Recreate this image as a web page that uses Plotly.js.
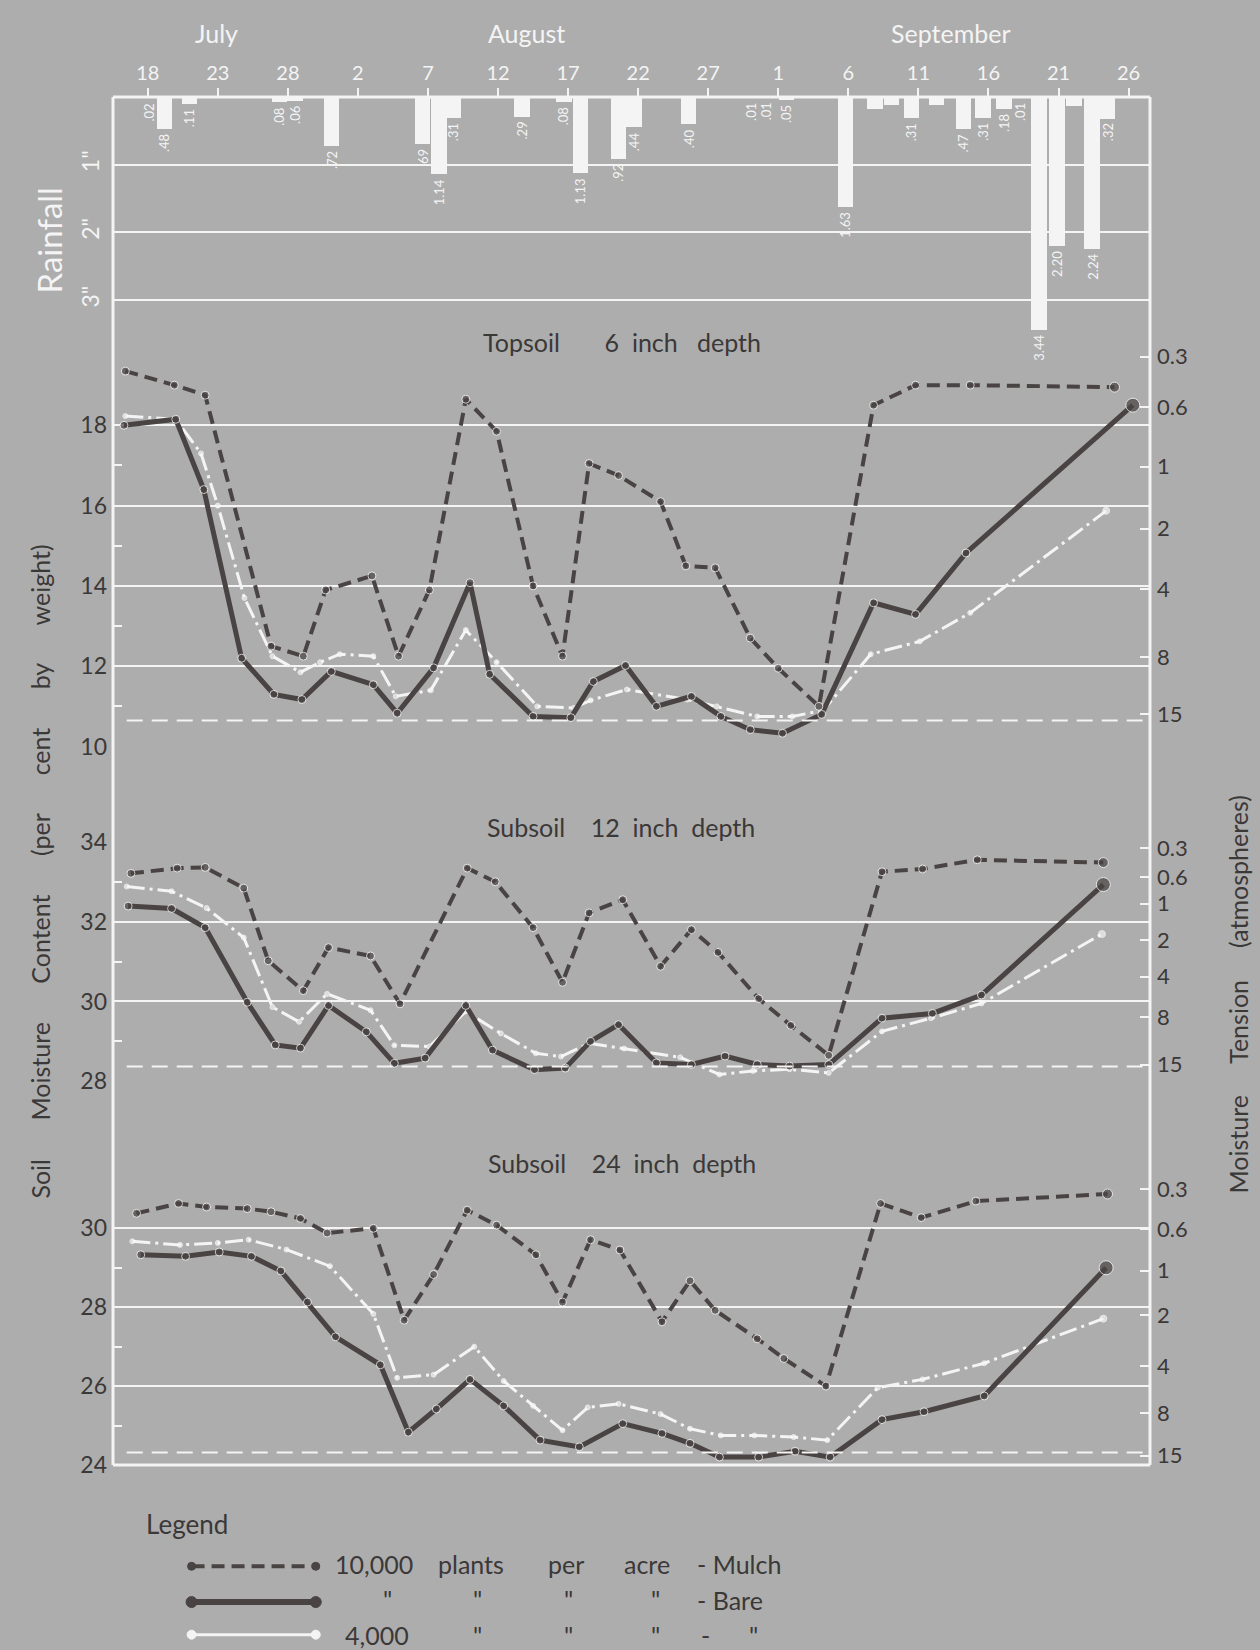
<!DOCTYPE html>
<html><head><meta charset="utf-8">
<script src="https://cdn.plot.ly/plotly-3.0.1.min.js"></script>
<style>html,body{margin:0;padding:0;background:#adadad;}#chart{width:1260px;height:1650px;}</style>
</head><body><div id="chart"></div>
<script>
// ---------- DATA (x = days after July 18) ----------
const tickDays  = [0,5,10,15,20,25,30,35,40,45,50,55,60,65,70];
const tickDates = ['18','23','28','2','7','12','17','22','27','1','6','11','16','21','26'];
const monthNames = ['July','August','September'];
const monthDays  = [4.9, 27.0, 57.3];

const rainDay = [0.1,1.2,3.0,9.4,10.5,13.1,19.6,20.8,21.8,26.7,29.7,30.9,33.6,34.7,38.6,43.0,44.1,45.6,49.8,51.9,53.1,54.5,56.3,58.2,59.6,61.1,62.2,63.6,64.9,66.1,67.4,68.5];
const rainAmt = [0.02,0.48,0.11,0.08,0.06,0.72,0.69,1.14,0.31,0.29,0.08,1.13,0.92,0.44,0.40,0.01,0.01,0.05,1.63,0.17,0.12,0.31,0.12,0.47,0.31,0.18,0.01,3.44,2.20,0.14,2.24,0.32];
const rainLbl = ['.02','.48','.11','.08','.06','.72','.69','1.14','.31','.29','.08','1.13','.92','.44','.40','.01','.01','.05','1.63','','','.31','','.47','.31','.18','.01','3.44','2.20','','2.24','.32'];
const rainTicks = [1,2,3];
const rainTickText = ['1"','2"','3"'];

// Topsoil 6 inch
const top6MulchDay = [-1.6,1.9,4.1,8.8,11.1,12.7,16.0,17.9,20.1,22.7,24.9,27.5,29.6,31.5,33.6,36.6,38.4,40.5,43.0,45.0,47.9,51.8,54.8,58.7,69.0];
const top6MulchVal = [19.35,19.0,18.75,12.5,12.25,13.9,14.25,12.25,13.9,18.65,17.85,14.0,12.25,17.05,16.75,16.1,14.5,14.45,12.7,11.95,11.0,18.5,19.0,19.0,18.95];
const top6BareDay  = [-1.7,2.0,4.0,6.7,9.0,11.0,13.1,16.1,17.8,20.4,23.0,24.4,27.5,30.2,31.8,34.1,36.3,38.8,40.9,43.0,45.3,48.1,51.8,54.8,58.4,70.3];
const top6BareVal  = [18.0,18.15,16.4,12.2,11.3,11.17,11.87,11.54,10.83,11.96,14.08,11.8,10.75,10.72,11.62,12.02,11.0,11.25,10.75,10.42,10.33,10.8,13.58,13.29,14.82,18.5];
const top6LowDay   = [-1.6,2.0,3.8,5.0,6.9,8.9,10.9,12.3,13.7,16.1,17.7,20.2,22.7,24.9,27.8,30.4,31.6,34.2,38.5,40.6,43.5,46.0,48.2,51.6,55.1,58.7,68.4];
const top6LowVal   = [18.23,18.15,17.3,16.0,13.7,12.25,11.85,12.1,12.3,12.25,11.25,11.4,12.9,12.1,11.0,10.96,11.15,11.42,11.17,11.0,10.75,10.75,10.9,12.3,12.62,13.33,15.87];

// Subsoil 12 inch
const sub12MulchDay = [-1.2,2.1,4.1,6.85,8.6,11.1,12.9,15.9,18.0,22.8,24.8,27.5,29.6,31.5,33.9,36.6,38.8,40.7,43.6,45.9,48.6,52.4,55.3,59.2,68.2];
const sub12MulchVal = [33.21,33.34,33.36,32.84,31.02,30.27,31.35,31.14,29.94,33.34,33.0,31.85,30.48,32.22,32.55,30.88,31.8,31.23,30.07,29.4,28.65,33.25,33.32,33.55,33.48];
const sub12BareDay  = [-1.4,1.7,4.1,7.1,9.1,10.9,12.9,15.6,17.6,19.8,22.7,24.6,27.6,29.8,31.6,33.6,36.3,38.8,41.2,43.5,45.8,48.6,52.4,56.0,59.5,68.2];
const sub12BareVal  = [32.39,32.33,31.85,29.98,28.91,28.83,29.9,29.24,28.45,28.58,29.9,28.78,28.29,28.33,29.0,29.42,28.46,28.42,28.63,28.42,28.38,28.42,29.58,29.7,30.16,32.93];
const sub12LowDay   = [-1.5,1.7,4.2,6.85,8.9,10.8,12.8,15.9,17.6,20.1,22.7,25.2,27.7,29.5,31.5,34.0,38.0,40.8,43.2,45.8,48.6,52.4,55.9,59.5,68.1];
const sub12LowVal   = [32.88,32.76,32.34,31.6,29.86,29.49,30.19,29.78,28.9,28.87,29.75,29.2,28.7,28.62,28.95,28.82,28.6,28.17,28.26,28.3,28.21,29.25,29.58,29.95,31.69];

// Subsoil 24 inch
const sub24MulchDay = [-0.8,2.2,4.2,7.1,8.8,10.9,12.8,16.1,18.3,20.4,22.8,24.9,27.7,29.6,31.6,33.7,36.7,38.7,40.5,43.5,45.4,48.4,52.3,55.2,59.1,68.5];
const sub24MulchVal = [30.38,30.63,30.54,30.5,30.42,30.25,29.88,30.0,27.67,28.83,30.46,30.08,29.33,28.13,29.71,29.45,27.63,28.67,27.92,27.2,26.7,26.0,30.63,30.27,30.69,30.87];
const sub24BareDay  = [-0.5,2.7,5.1,7.4,9.5,11.4,13.4,16.6,18.6,20.6,23.0,25.4,28.0,30.8,33.9,36.7,38.7,40.8,43.6,46.2,48.7,52.4,55.4,59.7,68.4];
const sub24BareVal  = [29.33,29.29,29.4,29.29,28.92,28.13,27.25,26.54,24.83,25.42,26.17,25.5,24.63,24.46,25.05,24.8,24.55,24.2,24.2,24.35,24.2,25.15,25.35,25.75,29.0];
const sub24LowDay   = [-1.1,2.3,5.0,7.2,9.9,13.0,16.1,17.8,20.4,23.3,25.4,27.5,29.6,31.4,33.6,36.6,38.7,40.9,43.3,46.1,48.5,52.1,55.3,59.7,68.2];
const sub24LowVal   = [29.67,29.58,29.63,29.71,29.46,29.04,27.83,26.21,26.29,27.0,26.13,25.5,24.88,25.46,25.55,25.29,24.92,24.75,24.75,24.71,24.63,25.96,26.17,26.58,27.71];

// Moisture tension scale (atmospheres) and its position on each moisture scale
const tensionText = ['0.3','0.6','1','2','4','8','15'];
const tensionAt6  = [19.71,18.46,16.97,15.43,13.92,12.22,10.81];
const tensionAt12 = [33.84,33.11,32.45,31.54,30.62,29.6,28.42];
const tensionAt24 = [30.99,29.97,28.93,27.79,26.51,25.31,24.24];
// 15 atmosphere (wilting) lines
const wiltX = [-1.5, 71.0];
const wilt6 = 10.65, wilt12 = 28.37, wilt24 = 24.32;

const ticks6 = [10,12,14,16,18,20],  ticks6Text = ['10','12','14','16','18',''];
const ticks12 = [28,30,32,34],       ticks12Text = ['28','30','32','34'];
const ticks24 = [24,26,28,30],       ticks24Text = ['24','26','28','30'];

// ---------- LAYOUT HELPERS ----------
const S = 1.0526, L = 113, R = 1150, T = 97, B = 1465, W = R - L, H = B - T;
const PX = p => (p * S - L) / W;
const PY = p => (B - p * S) / H;
const FONT = 'Lato, "Open Sans", "DejaVu Sans", sans-serif';
const DARK = '#3b3838', LINE = '#4a4343', WHITE = '#f4f4f4', BG = '#adadad';
const nb = n => '\u00a0'.repeat(n);

// ---------- TRACES ----------
const traces = [];
traces.push({type:'bar', x: rainDay, y: rainAmt, width: 1.1, xaxis:'x', yaxis:'y',
  marker:{color: WHITE, line:{width:0}}, hoverinfo:'x+y', showlegend:false});

function panel(yax, tax, mD, mV, bD, bV, lD, lV, wilt) {
  const big = (arr, s, e) => arr.map((_, i) => i === arr.length - 1 ? e : s);
  traces.push({type:'scatter', mode:'lines', x: wiltX, y: [wilt, wilt], xaxis:'x', yaxis: tax,
    line:{color: WHITE, width: 2, dash:'16px,9px'}, hoverinfo:'skip', showlegend:false});
  traces.push({type:'scatter', mode:'lines+markers', x: lD, y: lV, xaxis:'x', yaxis: yax,
    line:{color: WHITE, width: 3, dash:'18px,5px,3px,5px'}, marker:{color: WHITE, size: big(lD,5,7)}, showlegend:false});
  traces.push({type:'scatter', mode:'lines+markers', x: bD, y: bV, xaxis:'x', yaxis: yax,
    line:{color: LINE, width: 5}, marker:{color: LINE, size: big(bD,8,14)}, showlegend:false});
  traces.push({type:'scatter', mode:'lines+markers', x: mD, y: mV, xaxis:'x', yaxis: yax,
    line:{color: LINE, width: 4, dash:'13px,7px'}, marker:{color: LINE, size: big(mD,8,10)}, showlegend:false});
}
panel('y2','y5', top6MulchDay, top6MulchVal, top6BareDay, top6BareVal, top6LowDay, top6LowVal, wilt6);
panel('y3','y6', sub12MulchDay, sub12MulchVal, sub12BareDay, sub12BareVal, sub12LowDay, sub12LowVal, wilt12);
panel('y4','y7', sub24MulchDay, sub24MulchVal, sub24BareDay, sub24BareVal, sub24LowDay, sub24LowVal, wilt24);

// ---------- AXES ----------
const xr = [-2.48, 71.53];
function leftAxis(dom, range, tv, tt, minorVals) {
  return {domain: dom, range: range, anchor:'x', tickmode:'array', tickvals: tv, ticktext: tt,
    ticks:'', showline:false, zeroline:false, showgrid:true, gridcolor: WHITE, gridwidth: 2,
    tickfont:{family: FONT, size: 23, color: DARK}, ticklabelstandoff: 5, fixedrange:true,
    minor:{tickmode:'array', tickvals: minorVals, ticks:'inside', ticklen: 9, tickwidth: 2, tickcolor: WHITE, showgrid:false}};
}
function rightAxis(over, range, tv) {
  return {overlaying: over, side:'right', anchor:'x', range: range, tickmode:'array', tickvals: tv, ticktext: tensionText,
    ticks:'inside', ticklen: 10, tickwidth: 2, tickcolor: WHITE, showgrid:false, zeroline:false, showline:false,
    tickfont:{family: FONT, size: 22, color: DARK}, ticklabelstandoff: 6, fixedrange:true};
}
const d6 = [PY(710), PY(327)], d12 = [PY(1028), PY(799)], d24 = [0, PY(1045)];
const r6 = [9.98, 20.02], r12 = [27.98, 34.02], r24 = [24, 24 + (1392 - 1045) / 37.5];

const layout = {
  width: 1260, height: 1650, paper_bgcolor: BG, plot_bgcolor: BG,
  margin:{l: L, r: 1260 - R, t: T, b: 1650 - B}, showlegend:false, bargap: 0,
  font:{family: FONT, color: DARK},
  xaxis:{domain:[0,1], range: xr, anchor:'y', side:'top', tickmode:'array', tickvals: tickDays, ticktext: tickDates,
    ticks:'outside', ticklen: 8, tickwidth: 2, tickcolor: WHITE, showgrid:false, zeroline:false, showline:false,
    tickfont:{family: FONT, size: 20, color: WHITE}, fixedrange:true},
  yaxis:{domain:[PY(327), 1], range:[(327 - 92) / 64.33, 0], anchor:'x', tickmode:'array', tickvals: rainTicks, ticktext: rainTickText,
    tickangle: -90, ticks:'', showgrid:true, gridcolor: WHITE, gridwidth: 2, zeroline:false, showline:false,
    tickfont:{family: FONT, size: 23, color: WHITE}, ticklabelstandoff: 8, fixedrange:true},
  yaxis2: leftAxis(d6, r6, ticks6, ticks6Text, [11,13,15,17]),
  yaxis3: leftAxis(d12, r12, ticks12, ticks12Text, [29,31,33]),
  yaxis4: leftAxis(d24, r24, ticks24, ticks24Text, [25,27,29]),
  yaxis5: rightAxis('y2', r6, tensionAt6),
  yaxis6: rightAxis('y3', r12, tensionAt12),
  yaxis7: rightAxis('y4', r24, tensionAt24),
  shapes: [], annotations: []
};

// frame
const fr = {type:'line', xref:'paper', yref:'paper', line:{color: WHITE, width: 3}};
layout.shapes.push(Object.assign({}, fr, {x0:0, x1:0, y0:0, y1:1}));
layout.shapes.push(Object.assign({}, fr, {x0:1, x1:1, y0:0, y1:1}));
layout.shapes.push(Object.assign({}, fr, {x0:0, x1:1, y0:1, y1:1}));
layout.shapes.push(Object.assign({}, fr, {x0:0, x1:1, y0:0, y1:0}));

// rainfall labels
rainDay.forEach((d, i) => {
  if (!rainLbl[i]) return;
  layout.annotations.push({x: d, y: rainAmt[i], xref:'x', yref:'y', text: rainLbl[i], showarrow:false,
    textangle: -90, yanchor:'top', xanchor:'center', yshift: -3, font:{family: FONT, size: 13, color: WHITE}});
});

// month labels
monthNames.forEach((m, i) => layout.annotations.push({x: monthDays[i], y: PY(31), xref:'x', yref:'paper', text: m,
  showarrow:false, xanchor:'center', yanchor:'middle', font:{family: FONT, size: 25, color: WHITE}}));

const ann = (x, y, text, opts) => layout.annotations.push(Object.assign({x: PX(x), y: PY(y), xref:'paper', yref:'paper',
  text: text, showarrow:false, xanchor:'center', yanchor:'middle', font:{family: FONT, size: 25, color: DARK}}, opts || {}));

ann(47, 228, 'Rainfall', {textangle: -90, font:{family: FONT, size: 33, color: WHITE}});
ann(591, 325, 'Topsoil' + nb(7) + '6' + nb(2) + 'inch' + nb(3) + 'depth');
ann(590, 786, 'Subsoil' + nb(4) + '12' + nb(2) + 'inch' + nb(2) + 'depth');
ann(591, 1105, 'Subsoil' + nb(4) + '24' + nb(2) + 'inch' + nb(2) + 'depth');
ann(38, 828, ['Soil','Moisture','Content','(per','cent','by','weight)'].join(nb(6)), {textangle: -90});
ann(1176, 945, ['Moisture','Tension','(atmospheres)'].join(nb(5)), {textangle: -90});

// legend
ann(137, 1448, 'Legend', {xanchor:'left', font:{family: FONT, size: 26, color: DARK}});
const lg = (x, y, t) => ann(x, y, t, {xanchor:'left', font:{family: FONT, size: 25, color: DARK}});
lg(316, 1486, '10,000'); lg(414, 1486, 'plants'); lg(519, 1486, 'per'); lg(591, 1486, 'acre'); lg(660, 1486, '-' + nb(1) + 'Mulch');
lg(362, 1519, '"'); lg(447, 1519, '"'); lg(534, 1519, '"'); lg(617, 1519, '"'); lg(660, 1520, '-' + nb(1) + 'Bare');
lg(326, 1553, '4,000'); lg(447, 1553, '"'); lg(534, 1553, '"'); lg(617, 1553, '"'); lg(664, 1553, '-'); lg(710, 1553, '"');

function legLine(y, color, width, dash, r) {
  layout.shapes.push({type:'line', xref:'paper', yref:'paper', x0: PX(182), x1: PX(300), y0: PY(y), y1: PY(y),
    line:{color: color, width: width, dash: dash}});
  [182, 300].forEach(x => layout.shapes.push({type:'circle', xref:'paper', yref:'paper', fillcolor: color,
    line:{color: color, width: 1}, x0: PX(x) - r / W, x1: PX(x) + r / W, y0: PY(y) - r / H, y1: PY(y) + r / H}));
}
legLine(1488, LINE, 4, '13px,7px', 4);
legLine(1522, LINE, 6, 'solid', 5.5);
legLine(1553, WHITE, 3, 'solid', 4.5);

Plotly.newPlot('chart', traces, layout, {staticPlot: true, displayModeBar: false});
</script></body></html>
